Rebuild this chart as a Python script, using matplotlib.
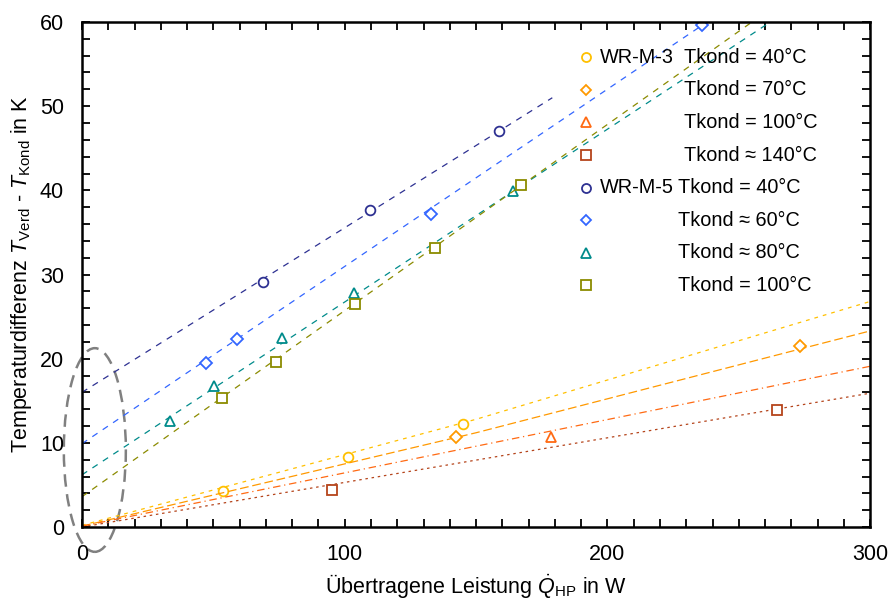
import matplotlib.pyplot as plt
from matplotlib.patches import Ellipse
from matplotlib.ticker import MultipleLocator

plt.rcParams['font.family'] = ['Liberation Sans', 'DejaVu Sans']
plt.rcParams['mathtext.fontset'] = 'custom'
plt.rcParams['mathtext.rm'] = 'Liberation Sans'
plt.rcParams['mathtext.it'] = 'Liberation Sans:italic'

# measured points (x = transferred power in W, y = temperature difference in K)
m3_40_x = [53.7, 101.3, 145.0]
m3_40_y = [4.3, 8.3, 12.2]
m3_70_x = [142.4, 273.3]
m3_70_y = [10.7, 21.5]
m3_100_x = [178.5]
m3_100_y = [10.7]
m3_140_x = [95.2, 264.6]
m3_140_y = [4.4, 13.9]

m5_40_x = [68.9, 109.6, 158.7]
m5_40_y = [29.1, 37.7, 47.0]
m5_60_x = [47.2, 59.0, 132.9, 236.0]
m5_60_y = [19.5, 22.3, 37.2, 59.6]
m5_80_x = [33.5, 50.2, 76.1, 103.5, 164.1]
m5_80_y = [12.6, 16.8, 22.5, 27.8, 39.9]
m5_100_x = [53.3, 73.8, 103.9, 134.4, 167.1]
m5_100_y = [15.3, 19.6, 26.5, 33.1, 40.6]

# fit lines
fit_m3_40_x = [0, 150, 300]
fit_m3_40_y = [0.2, 12.8, 26.8]
fit_m3_70_x = [0, 150, 300]
fit_m3_70_y = [0.1, 11.2, 23.3]
fit_m3_100_x = [0, 300]
fit_m3_100_y = [0.1, 19.1]
fit_m3_140_x = [0, 300]
fit_m3_140_y = [0.0, 15.9]
fit_m5_40_x = [0, 179]
fit_m5_40_y = [16.0, 51.0]
fit_m5_60_x = [0, 245]
fit_m5_60_y = [9.9, 61.5]
fit_m5_80_x = [0, 262]
fit_m5_80_y = [6.2, 60.0]
fit_m5_100_x = [0, 255]
fit_m5_100_y = [3.6, 60.0]

fig = plt.figure(figsize=(8.88, 6.01), dpi=100)
ax = fig.add_axes([0.0923, 0.1231, 0.8877, 0.8403])

fs = 15.5
fs_leg = 14.3

series = [
    (m3_40_x, m3_40_y, fit_m3_40_x, fit_m3_40_y, '#ffc000', 'o', (0, (3, 4))),
    (m3_70_x, m3_70_y, fit_m3_70_x, fit_m3_70_y, '#ff9900', 'D', (0, (7, 3))),
    (m3_100_x, m3_100_y, fit_m3_100_x, fit_m3_100_y, '#ff6a13', '^', (0, (6, 3, 1, 3))),
    (m3_140_x, m3_140_y, fit_m3_140_x, fit_m3_140_y, '#b5441b', 's', (0, (2, 3))),
    (m5_40_x, m5_40_y, fit_m5_40_x, fit_m5_40_y, '#2e3192', 'o', (0, (5, 5))),
    (m5_60_x, m5_60_y, fit_m5_60_x, fit_m5_60_y, '#3366ff', 'D', (0, (5, 5))),
    (m5_80_x, m5_80_y, fit_m5_80_x, fit_m5_80_y, '#008b8b', '^', (0, (5, 5))),
    (m5_100_x, m5_100_y, fit_m5_100_x, fit_m5_100_y, '#8b8b00', 's', (0, (5, 5))),
]

for px, py, fx, fy, col, mk, ls in series:
    ax.plot(fx, fy, color=col, lw=0.9, linestyle=ls)
    ms = 7 if mk != 'D' else 6
    ax.plot(px, py, linestyle='none', marker=mk, ms=ms, mfc='white',
            mec=col, mew=1.3)

ax.add_patch(Ellipse((4.9, 9.15), 23.6, 24.2, fill=False, edgecolor='#808080',
                     lw=1.8, linestyle=(0, (5, 3)), clip_on=False))

# legend drawn by hand
leg_rows = ['Tkond = 40°C', 'Tkond = 70°C', 'Tkond = 100°C', 'Tkond ≈ 140°C',
            'Tkond = 40°C', 'Tkond ≈ 60°C', 'Tkond ≈ 80°C', 'Tkond = 100°C']
leg_groups = ['WR-M-3', '', '', '', 'WR-M-5', '', '', '']
y0 = 55.8
dy = 3.87
for i, (s, lab, grp) in enumerate(zip(series, leg_rows, leg_groups)):
    yy = y0 - i * dy
    ms = 6.5 if s[5] != 'D' else 5.5
    ax.plot([192], [yy], linestyle='none', marker=s[5], ms=ms, mfc='white',
            mec=s[4], mew=1.3)
    if grp:
        ax.text(197, yy, grp, fontsize=fs_leg, va='center', ha='left')
    tx = 229.2 if i < 4 else 226.9
    ax.text(tx, yy, lab, fontsize=fs_leg, va='center', ha='left')

ax.set_xlim(0, 300)
ax.set_ylim(0, 60)
ax.xaxis.set_major_locator(MultipleLocator(100))
ax.xaxis.set_minor_locator(MultipleLocator(10))
ax.yaxis.set_major_locator(MultipleLocator(10))
ax.yaxis.set_minor_locator(MultipleLocator(2))
ax.tick_params(which='both', direction='in', top=True, right=True,
               length=6, width=1.3, labelsize=fs)
ax.tick_params(axis='x', which='major', pad=12)
ax.tick_params(axis='y', which='major', pad=13)
for sp in ax.spines.values():
    sp.set_linewidth(1.8)

ax.set_xlabel(r'Übertragene Leistung $\dot{Q}_{\rm HP}$ in W', fontsize=fs,
              labelpad=6)
ax.set_ylabel(r'Temperaturdifferenz $T_{\rm Verd}$ - $T_{\rm Kond}$ in K',
              fontsize=fs, labelpad=4)

fig.savefig('out.png', dpi=100)
